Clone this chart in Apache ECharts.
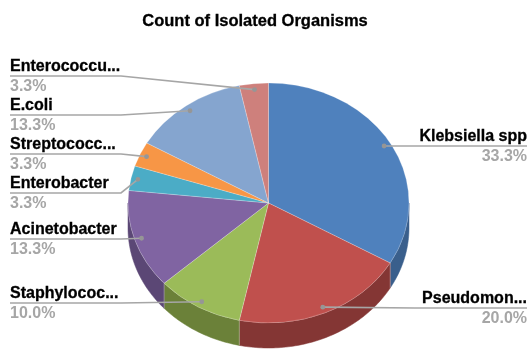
<!DOCTYPE html>
<html>
<head>
<meta charset="utf-8">
<style>html,body{margin:0;padding:0;background:#fff}#c{width:528px;height:349px}</style>
<script src="https://cdn.jsdelivr.net/npm/echarts@6/dist/echarts.min.js"></script>
</head>
<body>
<div id="c"></div>
<script>
const titleText = 'Count of Isolated Organisms';
const organisms = ['Klebsiella spp','Pseudomon...','Staphylococ...','Acinetobacter','Enterobacter','Streptococc...','E.coli','Enterococcu...'];
const counts = [10,6,3,4,1,1,4,1];
const topColors = ['#4f81bd','#c0504d','#9bbb59','#8064a2','#4bacc6','#f79646','#85a5cf','#ce807c'];
const sideColors = ['#3a5f8c','#843634','#6b8139','#5b4775','#37809a','#b86f33','#62799a','#99605d'];
// label placement: leader underline height, side of the chart
const underlineY = [146,308,303,239,193,154,115,76];
const onRight = [true,true,false,false,false,false,false,false];

const CX=268.5, CY=203, RX=140.5, RY=120, DEPTH=25;
const FONT='bold 16px "Liberation Sans", Arial, sans-serif';
const total = counts.reduce((a,b)=>a+b,0);
const pt=(deg,k,dy)=>{const t=deg*Math.PI/180;return [CX+RX*k*Math.sin(t),CY-RY*k*Math.cos(t)+(dy||0)];};
const startDeg=i=>counts.slice(0,i).reduce((a,b)=>a+b,0)/total*360;

function sidePoly(a,b){
  const lo=Math.max(a,90), hi=Math.min(b,270);
  if(hi<=lo) return null;
  const pts=[];
  for(let d=lo;d<=hi+1e-6;d+=Math.min(1,Math.max(hi-d,1e-3))){pts.push(pt(d,1,0)); if(d>=hi)break;}
  const n=pts.length, back=[];
  for(let j=n-1;j>=0;j--) back.push([pts[j][0],pts[j][1]+DEPTH]);
  return pts.concat(back);
}

function renderItem(params,api){
  const i=params.dataIndex;
  const v=api.value(1);
  const a=startDeg(i), b=a+v/total*360, mid=(a+b)/2;
  const children=[];
  const side=sidePoly(a,b);
  if(side) children.push({type:'polygon',z2:1,shape:{points:side},style:{fill:sideColors[i],stroke:sideColors[i],lineWidth:0.5}});
  if(side && a>=90 && a<=270){
    const e=pt(a,1,0);
    children.push({type:'line',z2:2,shape:{x1:e[0],y1:e[1],x2:e[0],y2:e[1]+DEPTH},style:{stroke:'rgba(255,255,255,0.3)',lineWidth:1}});
  }
  children.push({type:'sector',z2:3,x:CX,y:CY,scaleY:RY/RX,
    shape:{cx:0,cy:0,r:RX,r0:0,startAngle:(a-90)*Math.PI/180,endAngle:(b-90)*Math.PI/180,clockwise:true},
    style:{fill:topColors[i],stroke:'rgba(255,255,255,0.35)',lineWidth:0.7}});
  const dot=pt(mid,0.95), y=underlineY[i], right=onRight[i];
  const xOuter=right?527:10, xElbow=right?415:121;
  children.push({type:'polyline',z2:5,shape:{points:[[xOuter,y],[xElbow,y],dot]},style:{fill:'none',stroke:'#a6a6a6',lineWidth:1.7}});
  children.push({type:'circle',z2:6,shape:{cx:dot[0],cy:dot[1],r:2.4},style:{fill:'#969696'}});
  children.push({type:'text',z2:7,x:xOuter,y:y-1,style:{text:organisms[i],fill:'#000',stroke:'#000',lineWidth:0.3,
    font:FONT,align:right?'right':'left',verticalAlign:'bottom'}});
  children.push({type:'text',z2:7,x:xOuter,y:y+3,style:{text:(v/total*100).toFixed(1)+'%',fill:'#a6a6a6',
    font:FONT,align:right?'right':'left',verticalAlign:'top'}});
  return {type:'group',children};
}

const chart=echarts.init(document.getElementById('c'),null,{renderer:'canvas'});
chart.setOption({
  animation:false,
  backgroundColor:'#fff',
  title:{text:titleText,left:250,top:8,textAlign:'center',
    textStyle:{fontFamily:'"Liberation Sans", Arial, sans-serif',fontWeight:'bold',fontSize:16.5,color:'#000',
      textBorderColor:'#000',textBorderWidth:0.3}},
  series:[{type:'custom',coordinateSystem:'none',renderItem,clip:false,
    data:organisms.map((n,i)=>[n,counts[i]]),encode:{value:1}}]
});
</script>
</body>
</html>
